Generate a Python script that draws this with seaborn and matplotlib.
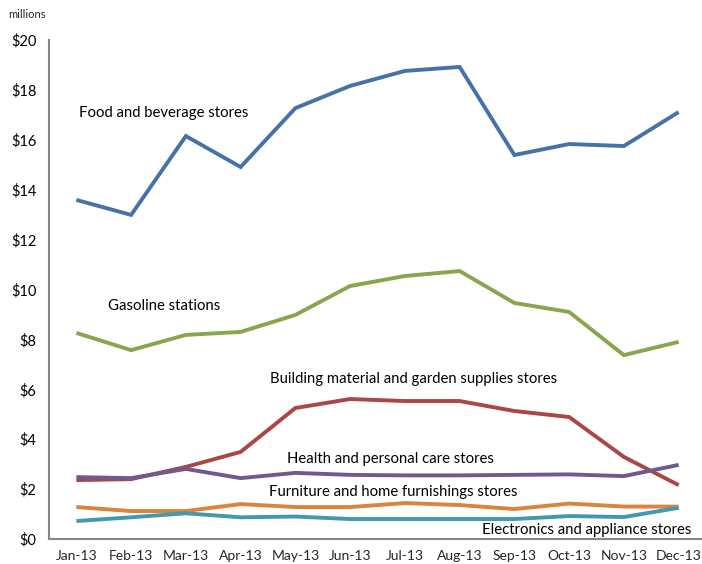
import matplotlib
matplotlib.use("Agg")
import matplotlib.pyplot as plt
import seaborn as sns
import pandas as pd
import numpy as np
from matplotlib.ticker import FixedLocator, FuncFormatter

months = ["Jan-13", "Feb-13", "Mar-13", "Apr-13", "May-13", "Jun-13",
          "Jul-13", "Aug-13", "Sep-13", "Oct-13", "Nov-13", "Dec-13"]

food = [13.59, 12.99, 16.15, 14.91, 17.27, 18.16, 18.76, 18.92, 15.39, 15.83, 15.75, 17.11]
gasoline = [8.26, 7.57, 8.18, 8.30, 8.98, 10.14, 10.54, 10.74, 9.46, 9.10, 7.37, 7.90]
building = [2.36, 2.40, 2.89, 3.49, 5.25, 5.61, 5.53, 5.53, 5.13, 4.89, 3.29, 2.16]
health = [2.48, 2.44, 2.81, 2.44, 2.65, 2.57, 2.55, 2.55, 2.57, 2.59, 2.52, 2.97]
furniture = [1.28, 1.12, 1.12, 1.40, 1.28, 1.28, 1.44, 1.36, 1.20, 1.42, 1.30, 1.30]
electronics = [0.72, 0.87, 1.03, 0.87, 0.90, 0.80, 0.80, 0.80, 0.80, 0.92, 0.88, 1.25]

series_names = ["Food and beverage stores", "Gasoline stations",
                "Building material and garden supplies stores",
                "Health and personal care stores",
                "Furniture and home furnishings stores",
                "Electronics and appliance stores"]
series_values = [food, gasoline, building, health, furniture, electronics]
colors = ["#4572A7", "#89A54E", "#AA4643", "#71588F", "#DB843D", "#4198AF"]

# label anchor points (category position, value)
label_pos = [(0.04, 17.07), (0.585, 9.34), (3.53, 6.41),
             (3.84, 3.21), (3.51, 1.88), (7.40, 0.36)]

rows = []
for name, vals in zip(series_names, series_values):
    for i, v in enumerate(vals):
        rows.append({"month": i, "sales": v, "category": name})
df = pd.DataFrame(rows)

sns.set_style("white")
plt.rcParams["font.family"] = ["Lato", "DejaVu Sans"]

fig = plt.figure(figsize=(7.02, 5.64), dpi=100)
ax = fig.add_axes([49 / 702, 25 / 564, 657 / 702, 499 / 564])

sns.lineplot(data=df, x="month", y="sales", hue="category",
             palette=dict(zip(series_names, colors)), hue_order=series_names,
             linewidth=2.8, legend=False, ax=ax)
for line in ax.get_lines():
    line.set_solid_joinstyle("miter")
    line.set_solid_capstyle("butt")

ax.set_xlim(-0.5, 11.5)
ax.set_ylim(0, 20)
ax.set_xlabel("")
ax.set_ylabel("")

ax.xaxis.set_major_locator(FixedLocator(np.arange(-0.5, 12, 1.0)))
ax.xaxis.set_major_formatter(FuncFormatter(lambda v, p: ""))
ax.set_xticks(np.arange(12), labels=months, minor=True)
ax.tick_params(axis="x", which="minor", length=0, pad=8, labelsize=10)
ax.tick_params(axis="x", which="major", length=5, width=1.2, color="#868686", direction="out")

ax.set_yticks(np.arange(0, 21, 2))
ax.yaxis.set_major_formatter(FuncFormatter(lambda v, p: f"${v:.0f}"))
ax.tick_params(axis="y", length=5, width=1.2, color="#868686", direction="out",
               labelsize=10.5, pad=4)
ax.tick_params(axis="both", labelcolor="black")

for side in ["top", "right"]:
    ax.spines[side].set_visible(False)
for side in ["left", "bottom"]:
    ax.spines[side].set_color("#868686")
    ax.spines[side].set_linewidth(1.5)

for name, (px, py) in zip(series_names, label_pos):
    ax.text(px, py, name, fontsize=10.7, ha="left", va="center", color="black")

fig.text(8 / 702, 1 - 15 / 564, "millions", fontsize=8, ha="left", va="center")

fig.savefig("out.png", dpi=100)
